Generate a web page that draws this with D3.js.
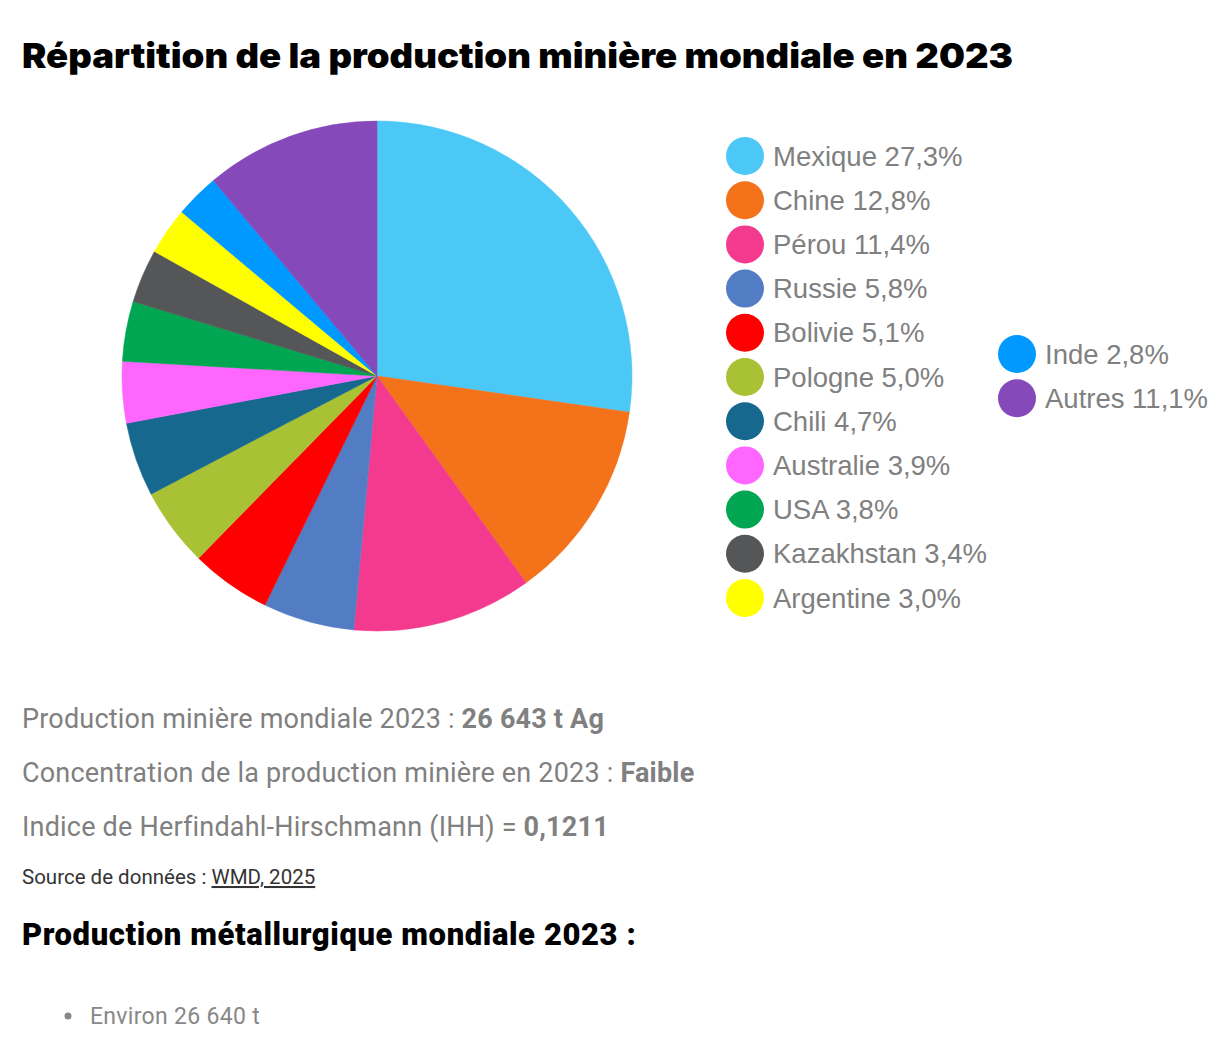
<!DOCTYPE html>
<html>
  <head>
    <meta charset="utf-8">
    <script src="https://d3js.org/d3.v7.min.js"></script>
    <style>
      body { margin: 0; background: #fff; }
    </style>
  </head>
  <body>
    <script>

    const countries = ["Mexique", "Chine", "Pérou", "Russie", "Bolivie", "Pologne", "Chili",
      "Australie", "USA", "Kazakhstan", "Argentine", "Inde", "Autres"];
    const shares = [27.3, 12.8, 11.4, 5.8, 5.1, 5.0, 4.7, 3.9, 3.8, 3.4, 3.0, 2.8, 11.1];
    const colors = ["#4bc8f5", "#f4721a", "#f43a8f", "#527cc4", "#ff0000", "#a9c135", "#16688e",
      "#ff66ff", "#00a651", "#555658", "#ffff00", "#0099ff", "#8549ba"];

    const infoLines = [
      ["Production minière mondiale 2023 : ", "26 643 t Ag"],
      ["Concentration de la production minière en 2023 : ", "Faible"],
      ["Indice de Herfindahl-Hirschmann (IHH) = ", "0,1211"]
    ];

    const width = 1221;
    const height = 1050;
    const radius = 255;
    const fmt = v => v.toFixed(1).replace(".", ",") + "%";

    const svg = d3.select("body").append("svg")
        .attr("width", width)
        .attr("height", height);

    svg.append("text")
      .attr("x", 22).attr("y", 68)
      .attr("textLength", 991)
      .attr("lengthAdjust", "spacingAndGlyphs")
      .style("font-family", "Inter")
      .style("font-weight", 900)
      .style("font-size", "34px")
      .attr("fill", "#000")
      .text("Répartition de la production minière mondiale en 2023");

    const color = d3.scaleOrdinal().domain(countries).range(colors);

    const pie = d3.pie().sort(null).value(d => d.share);
    const data = countries.map((c, i) => ({ name: c, share: shares[i] }));
    const arc = d3.arc().innerRadius(0).outerRadius(radius);

    svg.append("g")
        .attr("transform", "translate(377,376)")
      .selectAll("path")
      .data(pie(data))
      .join("path")
        .attr("d", arc)
        .attr("fill", d => color(d.data.name))
        .attr("stroke", d => color(d.data.name))
        .attr("stroke-width", 0.5);

    // legend: 11 items in first column, rest in second
    const perCol = 11;
    const legend = svg.append("g")
      .selectAll("g")
      .data(data)
      .join("g")
        .attr("transform", (d, i) => i < perCol
          ? `translate(745,${156 + i * 44.2})`
          : `translate(1017,${354 + (i - perCol) * 44.2})`);

    legend.append("circle")
      .attr("r", 19)
      .attr("fill", d => color(d.name));

    legend.append("text")
      .attr("x", 28)
      .attr("dy", "0.35em")
      .style("font-family", "Liberation Sans")
      .style("font-size", "27.5px")
      .attr("fill", "#808080")
      .text(d => `${d.name} ${fmt(d.share)}`);

    // info text below
    const info = svg.append("g")
      .selectAll("text")
      .data(infoLines)
      .join("text")
        .attr("x", 22)
        .attr("y", (d, i) => 728 + i * 54)
        .style("font-family", "Roboto")
        .style("font-size", "27px")
        .style("letter-spacing", "0.2px")
        .attr("fill", "#808080");
    info.append("tspan").text(d => d[0]);
    info.append("tspan").style("font-weight", 700).text(d => d[1]);

    const src = svg.append("text")
      .attr("x", 22).attr("y", 884)
      .style("font-family", "Roboto")
      .style("font-size", "20.5px")
      .attr("fill", "#333");
    src.append("tspan").text("Source de données : ");
    src.append("tspan").style("text-decoration", "underline").text("WMD, 2025");

    svg.append("text")
      .attr("x", 22).attr("y", 945)
      .style("font-family", "Roboto")
      .style("font-weight", 900)
      .style("font-size", "31px")
      .style("letter-spacing", "0.6px")
      .attr("fill", "#000")
      .text("Production métallurgique mondiale 2023 :");

    svg.append("circle")
      .attr("cx", 68).attr("cy", 1016).attr("r", 3.5)
      .attr("fill", "#888");
    svg.append("text")
      .attr("x", 90).attr("y", 1024)
      .style("font-family", "Roboto")
      .style("font-size", "23px")
      .style("letter-spacing", "0.3px")
      .attr("fill", "#888")
      .text("Environ 26 640 t");

    </script>
  </body>
</html>
